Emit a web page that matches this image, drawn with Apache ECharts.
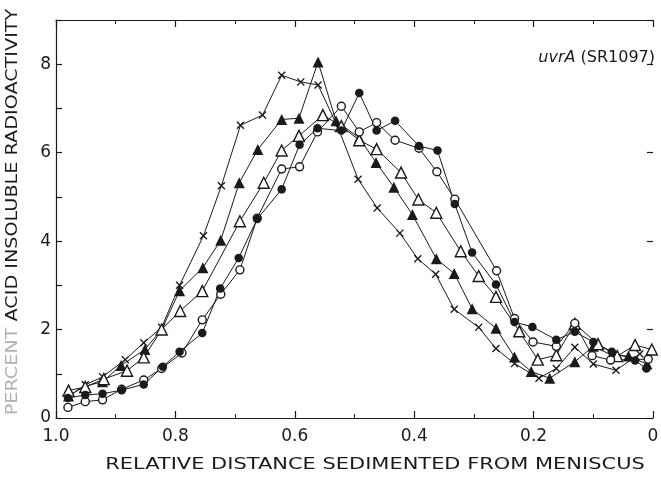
<!DOCTYPE html>
<html>
<head>
<meta charset="utf-8">
<script src="https://cdn.jsdelivr.net/npm/echarts@6/dist/echarts.min.js"></script>
<style>
html,body{margin:0;padding:0;background:#fff;}
#chart{width:661px;height:477px;}
</style>
</head>
<body>
<div id="chart"></div>
<script>
// ---- data ----
const xTickLabels = ['1.0', '0.8', '0.6', '0.4', '0.2', '0'];
const yTickLabels = ['0', '2', '4', '6', '8'];

const crossX = [0.980,0.951,0.922,0.884,0.853,0.823,0.793,0.753,0.723,0.691,0.654,0.622,0.590,0.561,0.527,0.494,0.462,0.424,0.394,0.364,0.333,0.292,0.263,0.232,0.191,0.162,0.131,0.100,0.062,0.022];
const crossY = [0.48,0.75,0.93,1.32,1.70,2.05,3.00,4.12,5.25,6.62,6.85,7.75,7.60,7.53,6.55,5.40,4.75,4.18,3.60,3.25,2.46,2.05,1.57,1.23,0.90,1.12,1.60,1.22,1.08,1.45];

const triFX = [0.979,0.951,0.922,0.891,0.851,0.823,0.793,0.754,0.724,0.693,0.662,0.622,0.593,0.561,0.531,0.492,0.464,0.434,0.403,0.363,0.333,0.303,0.263,0.232,0.204,0.173,0.131,0.100,0.069,0.041,0.010];
const triFY = [0.50,0.72,0.82,1.19,1.55,2.00,2.88,3.40,4.02,5.32,6.07,6.75,6.78,8.05,6.72,6.33,5.78,5.22,4.60,3.60,3.27,2.47,2.03,1.38,1.05,0.90,1.27,1.62,1.42,1.40,1.22];

const triOX = [0.979,0.951,0.920,0.881,0.853,0.823,0.792,0.755,0.692,0.652,0.622,0.593,0.553,0.522,0.492,0.463,0.422,0.393,0.363,0.322,0.292,0.263,0.224,0.193,0.162,0.131,0.092,0.060,0.030,0.002];
const triOY = [0.62,0.70,0.88,1.07,1.37,2.00,2.42,2.87,4.45,5.32,6.05,6.38,6.85,6.60,6.28,6.08,5.55,4.94,4.64,3.77,3.21,2.74,1.96,1.32,1.42,2.13,1.67,1.40,1.65,1.55];

const circOX = [0.980,0.951,0.922,0.890,0.853,0.823,0.789,0.755,0.724,0.692,0.663,0.622,0.592,0.562,0.522,0.492,0.463,0.432,0.392,0.362,0.332,0.262,0.232,0.201,0.162,0.131,0.102,0.071,0.008];
const circOY = [0.24,0.37,0.41,0.65,0.86,1.12,1.47,2.22,2.80,3.35,4.52,5.63,5.68,6.47,7.05,6.47,6.68,6.28,6.10,5.57,4.95,3.33,2.25,1.72,1.62,2.14,1.41,1.31,1.33];

const circFX = [0.980,0.951,0.922,0.890,0.853,0.821,0.793,0.755,0.725,0.694,0.663,0.622,0.592,0.562,0.522,0.492,0.463,0.432,0.392,0.361,0.332,0.303,0.263,0.232,0.202,0.162,0.131,0.100,0.069,0.030,0.011];
const circFY = [0.45,0.52,0.55,0.63,0.76,1.16,1.50,1.92,2.93,3.62,4.50,5.17,6.18,6.55,6.50,7.35,6.50,6.72,6.15,6.05,4.84,3.74,3.02,2.17,2.06,1.77,1.95,1.72,1.50,1.30,1.12];

const xTitle = 'RELATIVE DISTANCE SEDIMENTED FROM MENISCUS';
const yTitleFaded = 'PERCENT';
const yTitleRest = ' ACID INSOLUBLE RADIOACTIVITY';
const strainItalic = 'uvrA';
const strainRest = ' (SR1097)';

// ---- chart ----
const INK = '#1a1a1a';
const FONT = 'DejaVu Sans';
const pairs = (xs, ys) => xs.map((x, i) => [x, ys[i]]);
const crossPath = 'path://M0,1.2L1.2,0L5,3.8L8.8,0L10,1.2L6.2,5L10,8.8L8.8,10L5,6.2L1.2,10L0,8.8L3.8,5Z';

function mkSeries(name, data, symbol, size, filled) {
  return {
    name, type: 'line', data, symbol, symbolSize: size,
    showSymbol: true,
    lineStyle: { color: INK, width: 1 },
    itemStyle: { color: filled ? INK : '#fff', borderColor: INK, borderWidth: filled ? 0 : 1.4 },
    emphasis: { disabled: true },
    animation: false
  };
}

const xLabelFmt = v => {
  const r = Math.round(v * 10) / 10;
  const idx = Math.round((1 - r) / 0.2);
  return xTickLabels[idx] !== undefined ? xTickLabels[idx] : '';
};
const yLabelFmt = v => {
  const r = Math.round(v);
  return (r % 2 === 0) ? (yTickLabels[r / 2] || '') : '';
};

const chart = echarts.init(document.getElementById('chart'), null, { renderer: 'canvas' });
chart.setOption({
  backgroundColor: '#fff',
  animation: false,
  grid: { left: 56, right: 8, top: 20, bottom: 59, containLabel: false, outerBoundsMode: 'none' },
  xAxis: [
    {
      type: 'value', inverse: true, min: 0, max: 1, interval: 0.2, position: 'bottom',
      axisLine: { show: true, onZero: false, lineStyle: { color: INK, width: 1.2 } },
      axisTick: { show: true, inside: true, length: 7, lineStyle: { color: INK, width: 1.2 } },
      minorTick: { show: true, splitNumber: 2, length: 4, lineStyle: { color: INK, width: 1 } },
      splitLine: { show: false }, minorSplitLine: { show: false },
      axisLabel: { formatter: xLabelFmt, color: INK, fontFamily: FONT, fontSize: 17, margin: 10 }
    },
    {
      type: 'value', inverse: true, min: 0, max: 1, interval: 0.2, position: 'top',
      axisLine: { show: true, onZero: false, lineStyle: { color: INK, width: 1.2 } },
      axisTick: { show: true, inside: true, length: 7, lineStyle: { color: INK, width: 1.2 } },
      minorTick: { show: true, splitNumber: 2, length: 4, lineStyle: { color: INK, width: 1 } },
      splitLine: { show: false }, minorSplitLine: { show: false },
      axisLabel: { show: false }
    }
  ],
  yAxis: [
    {
      type: 'value', min: 0, max: 9, interval: 1, position: 'left',
      axisLine: { show: true, onZero: false, lineStyle: { color: INK, width: 1.2 } },
      axisTick: { show: true, inside: true, length: 6, lineStyle: { color: INK, width: 1.2 } },
      splitLine: { show: false },
      axisLabel: { formatter: yLabelFmt, color: INK, fontFamily: FONT, fontSize: 17, margin: 5 }
    },
    {
      type: 'value', min: 0, max: 9, interval: 2, position: 'right',
      axisLine: { show: false, onZero: false },
      axisTick: { show: true, inside: true, length: 6, lineStyle: { color: INK, width: 1.2 } },
      splitLine: { show: false },
      axisLabel: { show: false }
    }
  ],
  series: [
    mkSeries('cross', pairs(crossX, crossY), crossPath, 8, true),
    mkSeries('triFilled', pairs(triFX, triFY), 'triangle', 11, true),
    mkSeries('triOpen', pairs(triOX, triOY), 'triangle', 11, false),
    mkSeries('circOpen', pairs(circOX, circOY), 'circle', 8, false),
    mkSeries('circFilled', pairs(circFX, circFY), 'circle', 8.5, true)
  ],
  graphic: [
    {
      type: 'text', x: 375, y: 465, scaleX: 1.31,
      style: { text: xTitle, fill: INK, font: '16px "DejaVu Sans"', align: 'center', verticalAlign: 'middle' }
    },
    {
      type: 'text', x: 13, y: 212, rotation: Math.PI / 2, scaleX: 1.28,
      style: {
        text: '{f|' + yTitleFaded + '}{n|' + yTitleRest + '}',
        align: 'center', verticalAlign: 'middle',
        rich: {
          f: { fill: '#b0b0b0', font: '15px "DejaVu Sans"' },
          n: { fill: INK, font: '15px "DejaVu Sans"' }
        }
      }
    },
    {
      type: 'text', x: 655, y: 58,
      style: {
        text: '{i|' + strainItalic + '}{n|' + strainRest + '}',
        align: 'right', verticalAlign: 'middle',
        rich: {
          i: { fill: INK, font: 'italic 16px "DejaVu Sans"' },
          n: { fill: INK, font: '16px "DejaVu Sans"' }
        }
      }
    }
  ]
});
</script>
</body>
</html>
